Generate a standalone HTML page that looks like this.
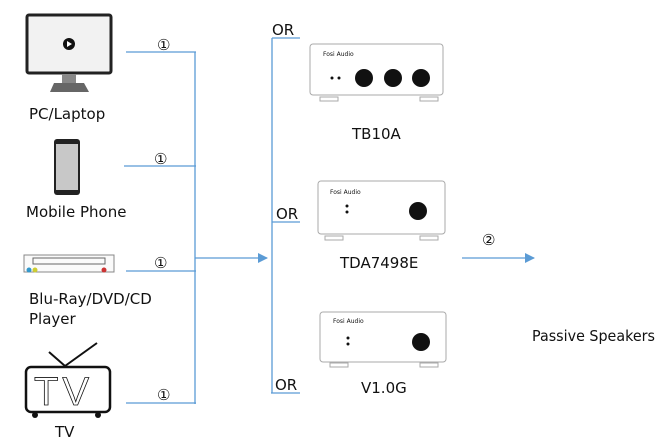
<!DOCTYPE html>
<html><head><meta charset="utf-8"><style>
html,body{margin:0;padding:0;background:#fff;width:666px;height:441px;overflow:hidden}
text{font-family:"DejaVu Sans","Liberation Sans",sans-serif;fill:#111}
</style></head><body>
<svg width="666" height="441" viewBox="0 0 666 441" xmlns="http://www.w3.org/2000/svg">
<defs>
<marker id="ah" markerWidth="10" markerHeight="10" refX="9" refY="5" orient="auto" markerUnits="userSpaceOnUse">
<path d="M0,0 L10,5 L0,10 z" fill="#5b9bd5"/></marker>
</defs>
<g stroke="#5b9bd5" stroke-width="1.3" fill="none">
<line x1="126" y1="52" x2="196" y2="52"/>
<line x1="124" y1="166" x2="196" y2="166"/>
<line x1="126" y1="271" x2="196" y2="271"/>
<line x1="126" y1="403" x2="196" y2="403"/>
<line x1="195" y1="52" x2="195" y2="404"/>
<line x1="195" y1="258" x2="267" y2="258" marker-end="url(#ah)"/>
<line x1="272" y1="38" x2="272" y2="393"/>
<line x1="272" y1="38" x2="300" y2="38"/>
<line x1="272" y1="222" x2="300" y2="222"/>
<line x1="271" y1="393" x2="300" y2="393"/>
<line x1="462" y1="258" x2="534" y2="258" marker-end="url(#ah)"/>
</g>
<g font-size="15">
<text x="157" y="50">①</text><text x="154" y="164">①</text>
<text x="154" y="268">①</text><text x="157" y="400">①</text>
<text x="482" y="245">②</text>
</g>
<g font-size="15">
<text x="272" y="35">OR</text><text x="276" y="219">OR</text><text x="275" y="390">OR</text>
<text x="29" y="119">PC/Laptop</text>
<text x="26" y="217">Mobile Phone</text>
<text x="29" y="304">Blu-Ray/DVD/CD</text>
<text x="29" y="324">Player</text>
<text x="55" y="437">TV</text>
<text x="352" y="139">TB10A</text>
<text x="340" y="268">TDA7498E</text>
<text x="361" y="393">V1.0G</text>
<text x="532" y="341" textLength="123" lengthAdjust="spacingAndGlyphs">Passive Speakers</text>
</g>
<!-- monitor -->
<rect x="27" y="15" width="84" height="58" rx="2" fill="#f2f2f2" stroke="#222" stroke-width="3"/>
<circle cx="69" cy="44" r="6" fill="#111"/><path d="M67,41 L72,44 L67,47z" fill="#fff"/>
<rect x="62" y="74" width="14" height="9" fill="#888"/>
<path d="M50,92 L54,83 L84,83 L89,92z" fill="#666"/>
<!-- phone -->
<rect x="54" y="139" width="26" height="56" rx="3" fill="#222"/>
<rect x="56" y="144" width="22" height="46" fill="#c8c8c8"/>
<!-- bluray -->
<rect x="24" y="255" width="90" height="17" fill="#fafafa" stroke="#888"/>
<rect x="33" y="258" width="72" height="6" fill="none" stroke="#666"/>
<circle cx="29" cy="270" r="2.5" fill="#39c"/><circle cx="35" cy="270" r="2.5" fill="#cc3"/><circle cx="104" cy="270" r="2.5" fill="#c33"/>
<!-- TV -->
<path d="M49,352 L65,366 L97,343" stroke="#111" stroke-width="2" fill="none"/>
<rect x="26" y="367" width="84" height="45" rx="5" fill="#fff" stroke="#111" stroke-width="2.5"/>
<text x="34" y="405" font-size="40" style="font-family:'Liberation Sans',sans-serif;fill:none;stroke:#111;stroke-width:0.8" letter-spacing="4">TV</text>
<circle cx="35" cy="415" r="3" fill="#111"/><circle cx="98" cy="415" r="3" fill="#111"/>
<!-- amps -->
<g fill="#fff" stroke="#aaa" stroke-width="1">
<rect x="310" y="44" width="133" height="51" rx="3"/>
<rect x="320" y="97" width="18" height="4"/><rect x="420" y="97" width="18" height="4"/>
<rect x="318" y="181" width="127" height="53" rx="3"/>
<rect x="325" y="236" width="18" height="4"/><rect x="420" y="236" width="18" height="4"/>
<rect x="320" y="312" width="126" height="50" rx="3"/>
<rect x="330" y="363" width="18" height="4"/><rect x="420" y="363" width="18" height="4"/>
</g>
<g fill="#111">
<circle cx="364" cy="78" r="9"/><circle cx="393" cy="78" r="9"/><circle cx="421" cy="78" r="9"/>
<circle cx="418" cy="211" r="9"/>
<circle cx="421" cy="342" r="9"/>
<circle cx="332" cy="78" r="1.5"/><circle cx="339" cy="78" r="1.5"/>
<circle cx="347" cy="206" r="1.5"/><circle cx="347" cy="212" r="1.5"/>
<circle cx="348" cy="338" r="1.5"/><circle cx="348" cy="344" r="1.5"/>
</g>
<g font-size="6" style="font-family:'Liberation Serif',serif;fill:#666">
<text x="323" y="56">Fosi Audio</text>
<text x="330" y="194">Fosi Audio</text>
<text x="333" y="323">Fosi Audio</text>
</g>
</svg>
</body></html>
